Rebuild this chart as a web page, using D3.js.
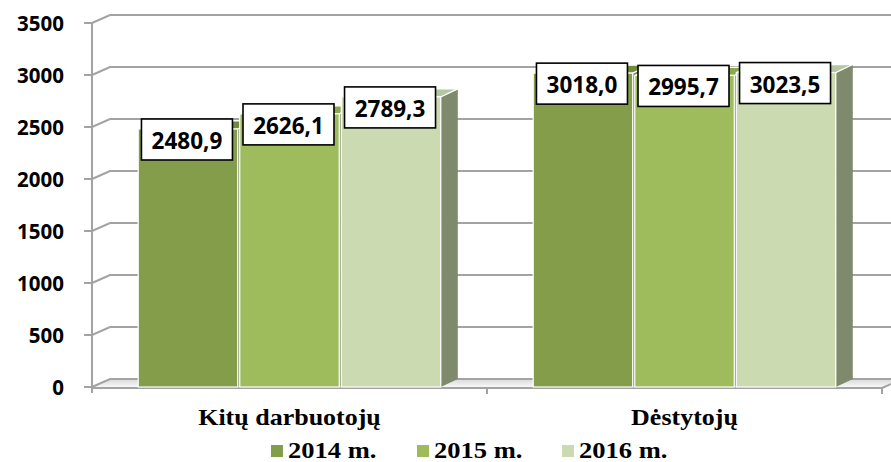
<!DOCTYPE html>
<html>
<head>
<meta charset="utf-8">
<script src="https://cdn.jsdelivr.net/npm/d3@7"></script>
<style>
  html, body { margin: 0; padding: 0; background: #fff; }
  svg { display: block; }
</style>
</head>
<body>
<svg id="chart" width="891" height="462"></svg>
<script>
// Vidutinis darbo užmokestis pagal darbuotojų grupes
const categories = ["Kitų darbuotojų", "Dėstytojų"];
const series = ["2014 m.", "2015 m.", "2016 m."];
const values2014 = [2480.9, 3018.0];
const values2015 = [2626.1, 2995.7];
const values2016 = [2789.3, 3023.5];
const yTicks = [0, 500, 1000, 1500, 2000, 2500, 3000, 3500];

const seriesValues = [values2014, values2015, values2016];
const frontColors = ["#839d4b", "#9ebc5c", "#cbdab0"];
const topColors = ["#718a3c", "#8aa74d", "#b6c6a0"];
const sideColor = "#7f8a6c";

const svg = d3.select("#chart");
const W = 891, H = 462;

// plot frame (front plane) and 3D depth offsets
const left = 92, right = 882, base = 387, topY = 23;
const wall = { dx: 18, dy: -8 };
const depth = { dx: 17, dy: -8 };

const y = d3.scaleLinear().domain([0, 3500]).range([base, topY]);
const x = d3.scaleBand().domain(categories).range([left, right]).padding(0);
const xs = d3.scaleBand().domain(series).range([0, x.bandwidth()])
  .paddingInner(0.02).paddingOuter(0.455);

const gridColor = "#a3a3a3";
const serif = "'Liberation Serif', 'Times New Roman', serif";
const sans = "'Open Sans', sans-serif";
const serifStretch = 1.13;

// floor
const defs = svg.append("defs");
const fg = defs.append("linearGradient").attr("id", "floorGrad")
  .attr("x1", 0).attr("y1", 0).attr("x2", 0).attr("y2", 1);
fg.append("stop").attr("offset", "0%").attr("stop-color", "#d8d8d8");
fg.append("stop").attr("offset", "100%").attr("stop-color", "#f8f8f8");

svg.append("path")
  .attr("d", `M${left},${base} L${right},${base} L${right + wall.dx},${base + wall.dy} L${left + wall.dx},${base + wall.dy} Z`)
  .attr("fill", "url(#floorGrad)");

// back-wall gridlines and side-wall diagonals
const grid = svg.append("g");
yTicks.forEach(t => {
  const yf = y(t), yb = y(t) + wall.dy;
  grid.append("path")
    .attr("d", `M${left},${yf} L${left + wall.dx},${yb} L${W + 5},${yb}`)
    .attr("fill", "none").attr("stroke", gridColor).attr("stroke-width", 2);
});
// floor front edge
svg.append("line")
  .attr("x1", left).attr("x2", right).attr("y1", base + 1).attr("y2", base + 1)
  .attr("stroke", gridColor).attr("stroke-width", 2);
svg.append("line")
  .attr("x1", right).attr("y1", base + 1).attr("x2", right + wall.dx).attr("y2", base + 1 + wall.dy)
  .attr("stroke", gridColor).attr("stroke-width", 2);

// value axis
const axis = svg.append("g");
axis.append("line").attr("x1", left).attr("x2", left).attr("y1", topY).attr("y2", base + 6)
  .attr("stroke", gridColor).attr("stroke-width", 2);
yTicks.forEach(t => {
  axis.append("line").attr("x1", left - 8).attr("x2", left).attr("y1", y(t)).attr("y2", y(t))
    .attr("stroke", gridColor).attr("stroke-width", 2);
  axis.append("text")
    .attr("x", 64).attr("y", y(t) + 8)
    .attr("text-anchor", "end")
    .attr("font-family", sans)
    .attr("font-weight", 700).attr("font-size", 20.5)
    .attr("fill", "#000")
    .text(t);
});
// category boundary ticks
[x(categories[1]), right].forEach(px => {
  axis.append("line").attr("x1", px).attr("x2", px).attr("y1", base + 1).attr("y2", base + 7)
    .attr("stroke", gridColor).attr("stroke-width", 2);
});

// bars
const barsG = svg.append("g");
categories.forEach((cat, ci) => {
  series.forEach((s, si) => {
    const v = seriesValues[si][ci];
    const x0 = x(cat) + xs(s), x1 = x0 + xs.bandwidth();
    const yt = y(v), yb = y(0);
    const g = barsG.append("g");
    // side face
    g.append("path")
      .attr("d", `M${x1},${yb} L${x1 + depth.dx},${yb + depth.dy} L${x1 + depth.dx},${yt + depth.dy} L${x1},${yt} Z`)
      .attr("fill", sideColor);
    // top face
    g.append("path")
      .attr("d", `M${x0},${yt} L${x1},${yt} L${x1 + depth.dx},${yt + depth.dy} L${x0 + depth.dx},${yt + depth.dy} Z`)
      .attr("fill", topColors[si]).attr("stroke", "#fff").attr("stroke-width", 1.2);
    // front face
    g.append("rect")
      .attr("x", x0).attr("y", yt).attr("width", x1 - x0).attr("height", yb - yt)
      .attr("fill", frontColors[si]).attr("stroke", "#fff").attr("stroke-width", 1.2);
  });
});

// value labels
const fmt = v => v.toFixed(1).replace(".", ",");
const labelsG = svg.append("g");
categories.forEach((cat, ci) => {
  series.forEach((s, si) => {
    const v = seriesValues[si][ci];
    const cx = x(cat) + xs(s) + xs.bandwidth() / 2 - 1;
    const yt = y(v);
    const bw = 91, bh = 41;
    labelsG.append("rect")
      .attr("x", cx - bw / 2).attr("y", yt - 10).attr("width", bw).attr("height", bh)
      .attr("fill", "#fff").attr("stroke", "#000").attr("stroke-width", 1.6);
    labelsG.append("text")
      .attr("x", cx).attr("y", yt + 20)
      .attr("text-anchor", "middle")
      .attr("font-family", sans)
      .attr("font-weight", 700).attr("font-size", 22.5)
      .attr("fill", "#000")
      .text(fmt(v));
  });
});

// category labels
categories.forEach(cat => {
  svg.append("text")
    .attr("transform", `translate(${x(cat) + x.bandwidth() / 2},425) scale(${serifStretch},1)`)
    .attr("text-anchor", "middle")
    .attr("font-family", serif)
    .attr("font-weight", 700).attr("font-size", 23)
    .attr("fill", "#000")
    .text(cat);
});

// legend
const legendX = [271, 417, 562];
const legend = svg.append("g");
series.forEach((s, si) => {
  legend.append("rect")
    .attr("x", legendX[si]).attr("y", 445).attr("width", 12).attr("height", 12)
    .attr("fill", frontColors[si]);
  legend.append("text")
    .attr("transform", `translate(${legendX[si] + 17},458) scale(${serifStretch},1)`)
    .attr("font-family", serif)
    .attr("font-weight", 700).attr("font-size", 23.5)
    .attr("fill", "#000")
    .text(s);
});
</script>
</body>
</html>
